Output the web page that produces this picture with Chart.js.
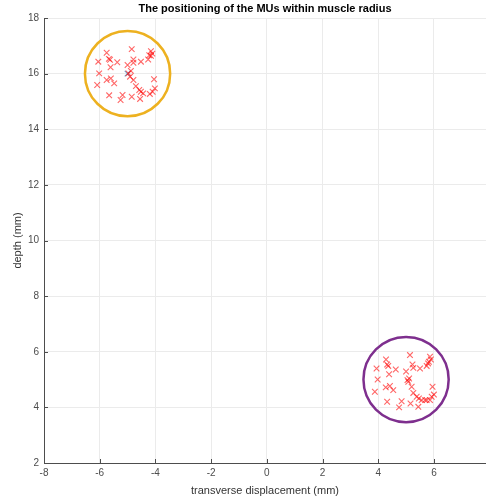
<!DOCTYPE html>
<html>
<head>
<meta charset="utf-8">
<script src="https://cdn.jsdelivr.net/npm/chart.js@4.4.0/dist/chart.umd.min.js"></script>
<style>
  html, body { margin: 0; padding: 0; background: #fff; overflow: hidden; }
  #wrap { width: 486px; height: 499px; position: relative; }
</style>
</head>
<body>
<div id="wrap"><canvas id="c"></canvas></div>
<script>
// MU positions, first muscle (top left)
const muX1 = [-4.85, -5.75, -5.67, -5.63, -6.05, -5.37, -5.61, -4.79, -4.79, -5.00, -4.52, -4.26,
              -4.16, -4.11, -4.16, -4.22, -6.02, -4.97, -4.88, -4.91, -4.79, -5.75, -5.60, -5.48,
              -6.09, -4.05, -4.70, -4.58, -4.52, -4.44, -4.02, -4.10, -5.66, -5.18, -5.25, -4.85,
              -4.55, -4.20];
const muY1 = [16.88, 16.75, 16.53, 16.50, 16.43, 16.41, 16.23, 16.51, 16.39, 16.31, 16.43, 16.51,
              16.81, 16.72, 16.64, 16.66, 16.01, 16.01, 16.10, 15.89, 15.77, 15.77, 15.83, 15.65,
              15.59, 15.80, 15.55, 15.41, 15.35, 15.29, 15.47, 15.35, 15.22, 15.23, 15.05, 15.17,
              15.09, 15.27];

// MU positions, second muscle (bottom right)
const muX2 = [5.14, 4.28, 4.32, 4.36, 3.94, 4.63, 4.39, 5.23, 5.26, 5.00, 5.50, 5.74,
              5.86, 5.89, 5.82, 5.79, 3.98, 5.05, 5.08, 5.11, 5.20, 4.27, 4.42, 4.54,
              3.88, 5.95, 5.26, 5.38, 5.46, 5.56, 6.00, 5.92, 5.86, 5.74, 5.68, 4.32,
              4.84, 4.75, 5.16, 5.44];
const muY2 = [5.88, 5.72, 5.54, 5.49, 5.40, 5.36, 5.19, 5.54, 5.42, 5.29, 5.40, 5.49,
              5.82, 5.72, 5.64, 5.58, 5.00, 4.98, 4.92, 5.04, 4.74, 4.72, 4.77, 4.62,
              4.56, 4.74, 4.52, 4.38, 4.32, 4.26, 4.46, 4.38, 4.26, 4.26, 4.26, 4.20,
              4.22, 4.00, 4.14, 4.02];

// muscle centre marker (blue)
const centreX = [-5];
const centreY = [16];

// muscle outlines
const muscleCx = [-5, 5];
const muscleCy = [16, 5];
const muscleR = [1.53, 1.53];
const muscleColors = ['#EDB120', '#7E2F8E'];

const xTicks = [-8, -6, -4, -2, 0, 2, 4, 6];
const yTicks = [2, 4, 6, 8, 10, 12, 14, 16, 18];

const FONT = '"Liberation Sans", Arial, Helvetica, sans-serif';
const AXIS_COLOR = '#4d4d4d';

function toPoints(xs, ys) {
    return xs.map((x, i) => ({ x: x, y: ys[i] }));
}

// circles + inner tick marks + title
const matlabAxesPlugin = {
    id: 'matlabAxes',
    beforeDatasetsDraw(chart) {
        const { ctx, scales } = chart;
        const xs = scales.x, ys = scales.y;
        ctx.save();
        muscleCx.forEach((cx, i) => {
            const px = xs.getPixelForValue(cx);
            const py = ys.getPixelForValue(muscleCy[i]);
            const r = Math.abs(xs.getPixelForValue(cx + muscleR[i]) - px);
            ctx.beginPath();
            ctx.arc(px, py, r, 0, Math.PI * 2);
            ctx.lineWidth = 2.5;
            ctx.strokeStyle = muscleColors[i];
            ctx.stroke();
        });
        ctx.restore();
    },
    afterDraw(chart) {
        const { ctx, chartArea, scales } = chart;
        ctx.save();
        ctx.strokeStyle = AXIS_COLOR;
        ctx.lineWidth = 1;
        ctx.beginPath();
        xTicks.forEach(v => {
            const px = Math.round(scales.x.getPixelForValue(v)) + 0.5;
            ctx.moveTo(px, chartArea.bottom);
            ctx.lineTo(px, chartArea.bottom - 4);
        });
        yTicks.forEach(v => {
            const py = Math.round(scales.y.getPixelForValue(v)) + 0.5;
            ctx.moveTo(chartArea.left, py);
            ctx.lineTo(chartArea.left + 4, py);
        });
        ctx.stroke();

        ctx.fillStyle = '#000';
        ctx.font = 'bold 11px ' + FONT;
        ctx.textAlign = 'center';
        ctx.textBaseline = 'middle';
        ctx.fillText('The positioning of the MUs within muscle radius',
            (chartArea.left + chartArea.right) / 2, 9);
        ctx.restore();
    }
};

const markerStyle = {
    pointStyle: 'crossRot',
    pointRadius: 4,
    pointHoverRadius: 4,
    borderWidth: 1.1,
    borderColor: 'rgba(255, 0, 0, 0.6)',
    backgroundColor: 'rgba(255, 0, 0, 0.6)',
    showLine: false
};

new Chart(document.getElementById('c'), {
    type: 'scatter',
    data: {
        datasets: [
            Object.assign({ label: 'muscle 1', data: toPoints(muX1, muY1) }, markerStyle),
            Object.assign({ label: 'muscle 2', data: toPoints(muX2, muY2) }, markerStyle),
            Object.assign({}, markerStyle, {
                label: 'centre',
                data: toPoints(centreX, centreY),
                borderColor: 'rgba(0, 114, 189, 0.6)',
                backgroundColor: 'rgba(0, 114, 189, 0.6)'
            })
        ]
    },
    options: {
        responsive: true,
        maintainAspectRatio: false,
        animation: false,
        layout: { autoPadding: false, padding: { top: 18, right: 0, bottom: 0, left: 0 } },
        plugins: {
            legend: { display: false },
            title: { display: false },
            tooltip: { enabled: false }
        },
        scales: {
            x: {
                type: 'linear',
                min: -8,
                max: 7.87,
                afterFit(scale) {
                    scale.height = 36;
                    scale.paddingLeft = 0;
                    scale.paddingRight = 0;
                },
                afterBuildTicks(scale) { scale.ticks = xTicks.map(v => ({ value: v })); },
                ticks: {
                    includeBounds: false,
                    padding: 4,
                    color: AXIS_COLOR,
                    font: { family: FONT, size: 10 },
                    maxRotation: 0
                },
                grid: { color: '#ebebeb', drawTicks: false },
                border: { display: true, color: AXIS_COLOR, width: 1 },
                title: {
                    display: true,
                    text: 'transverse displacement (mm)',
                    color: '#333',
                    font: { family: FONT, size: 11 },
                    padding: { top: 0, bottom: 1.5 }
                }
            },
            y: {
                type: 'linear',
                min: 2,
                max: 18,
                afterFit(scale) {
                    scale.width = 44;
                    scale.paddingTop = 0;
                    scale.paddingBottom = 0;
                },
                afterBuildTicks(scale) { scale.ticks = yTicks.map(v => ({ value: v })); },
                ticks: {
                    padding: 5,
                    color: AXIS_COLOR,
                    font: { family: FONT, size: 10 }
                },
                grid: { color: '#ebebeb', drawTicks: false },
                border: { display: true, color: AXIS_COLOR, width: 1 },
                title: {
                    display: true,
                    text: 'depth (mm)',
                    color: '#333',
                    font: { family: FONT, size: 11 },
                    padding: { top: 11.4, bottom: 0 }
                }
            }
        }
    },
    plugins: [matlabAxesPlugin]
});
</script>
</body>
</html>
